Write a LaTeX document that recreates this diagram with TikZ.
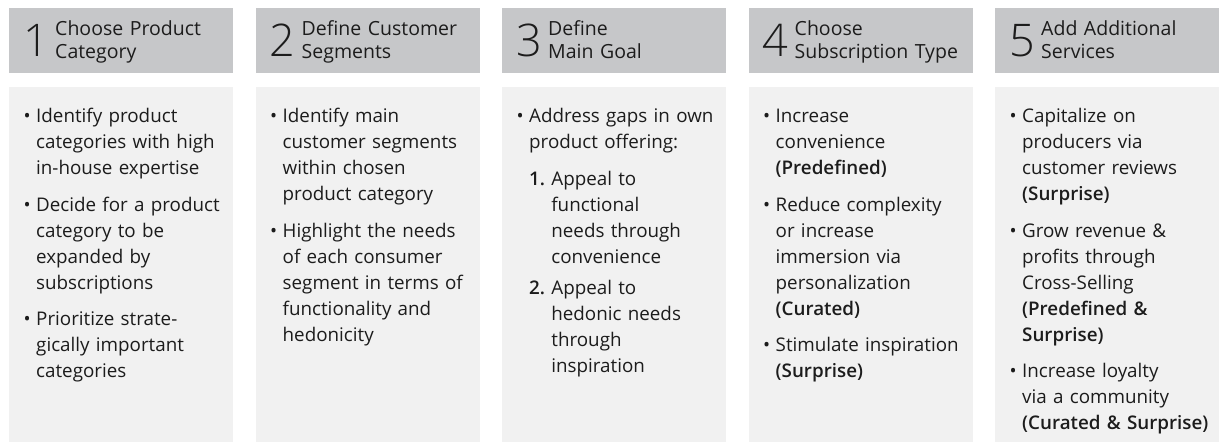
\documentclass[tikz,border=0pt]{standalone}
\usepackage{fontspec}
\setmainfont{Open Sans}
\IfFontExistsTF{Open Sans Light}{\newfontfamily\digitfont{Open Sans Light}}{\newfontfamily\digitfont{Open Sans}}
\IfFontExistsTF{Open Sans Semibold}{\newfontfamily\semibf{Open Sans Semibold}}{\let\semibf\bfseries}
\definecolor{hdrgray}{RGB}{198,199,201}
\definecolor{bodygray}{RGB}{241,241,241}
\definecolor{ink}{RGB}{28,28,28}
\newsavebox\numbox
\newcommand\bul{\noindent\llap{\textbullet\hspace{5.5pt}}}
\newcommand\numitem[2]{\sbox\numbox{\semibf #1\ }\noindent\usebox\numbox\parbox[t]{170pt}{\raggedright #2\strut}\par\prevdepth=\dp\strutbox}
\tikzset{
  hdrbox/.style={fill=hdrgray, draw=none, inner sep=0pt, minimum width=224pt, minimum height=65pt, anchor=north west},
  bodybox/.style={fill=bodygray, draw=none, inner sep=0pt, minimum width=224pt, minimum height=355pt, anchor=north west},
  digit/.style={anchor=base west, inner sep=0pt, text=ink, font=\digitfont\fontsize{45}{45}\selectfont},
  hdrtext/.style={anchor=base west, inner sep=0pt, text=ink, text width=178pt, align=left, font=\fontsize{19.5}{23}\selectfont},
  bodytext/.style={anchor=base west, inner sep=0pt, text=ink, text width=215pt, align=left, font=\fontsize{18.8}{26}\selectfont, execute at begin node={\setlength{\parskip}{10.5pt}}}
}
\begin{document}
\begin{tikzpicture}[x=1pt,y=-1pt]
\useasboundingbox (0,0) rectangle (1221,443);
% boxes
\node[hdrbox] (h1) at (9,8) {};
\node[hdrbox] (h2) at (255.5,8) {};
\node[hdrbox] (h3) at (502,8) {};
\node[hdrbox] (h4) at (748.5,8) {};
\node[hdrbox] (h5) at (995,8) {};
\node[bodybox] (b1) at (9,87) {};
\node[bodybox] (b2) at (255.5,87) {};
\node[bodybox] (b3) at (502,87) {};
\node[bodybox] (b4) at (748.5,87) {};
\node[bodybox] (b5) at (995,87) {};
% digits
\node[digit] (d1) at (23,57) {1};
\node[digit] (d2) at (269.5,57) {2};
\node[digit] (d3) at (516,57) {3};
\node[digit] (d4) at (762.5,57) {4};
\node[digit] (d5) at (1009,57) {5};
% header titles
\node[hdrtext] (t1) at (55,36) {Choose Product\newline Category};
\node[hdrtext] (t2) at (301.5,36) {Define Customer\newline Segments};
\node[hdrtext] (t3) at (548,36) {Define\newline Main Goal};
\node[hdrtext] (t4) at (794.5,36) {Choose\newline Subscription Type};
\node[hdrtext] (t5) at (1041,36) {Add Additional\newline Services};
% bodies
\node[bodytext] (c1) at (36,122.7) {%
\bul Identify product\newline categories with high\newline in-house expertise\par
\bul Decide for a product\newline category to be\newline expanded by\newline subscriptions\par
\bul Prioritize strate-\newline gically important\newline categories};
\node[bodytext] (c2) at (282.5,122.7) {%
\bul Identify main\newline customer segments\newline within chosen\newline product category\par
\bul Highlight the needs\newline of each consumer\newline segment in terms of\newline functionality and\newline hedonicity};
\node[bodytext] (c3) at (529,122.7) {%
\bul Address gaps in own\newline product offering:\par
\numitem{1.}{Appeal to\newline functional\newline needs through\newline convenience}
\vskip-5pt
\numitem{2.}{Appeal to\newline hedonic needs\newline through\newline inspiration}};
\node[bodytext] (c4) at (775.5,122.7) {%
\bul Increase\newline convenience\newline {\semibf (Predefined)}\par
\bul Reduce complexity\newline or increase\newline immersion via\newline personalization\newline {\semibf (Curated)}\par
\bul Stimulate inspiration\newline {\semibf (Surprise)}};
\node[bodytext] (c5) at (1022,122.7) {%
\bul Capitalize on\newline producers via\newline customer reviews\newline {\semibf (Surprise)}\par
\bul Grow revenue \&\newline profits through\newline Cross-Selling\newline {\semibf (Predefined \&\newline Surprise)}\par
\bul Increase loyalty\newline via a community\newline {\semibf (Curated \& Surprise)}};
\end{tikzpicture}
\end{document}
